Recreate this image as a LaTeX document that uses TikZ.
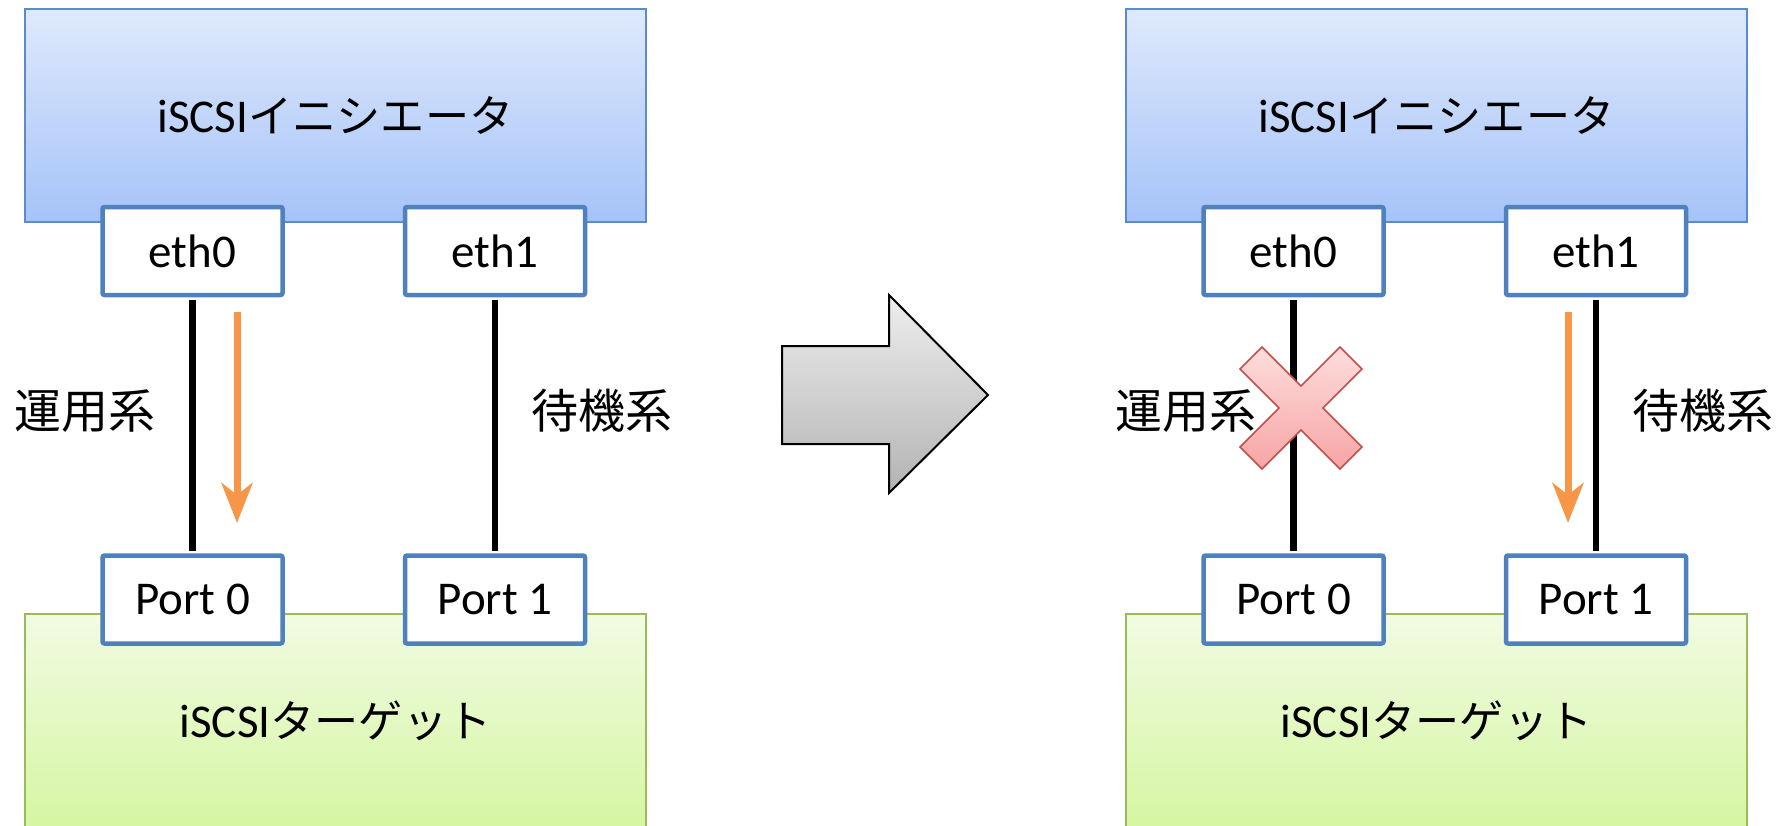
\documentclass[tikz,border=0pt]{standalone}
\usepackage{fontspec}
\setmainfont{Carlito}
\newfontfamily\jp{Noto Sans CJK JP}[Scale=0.94]
\newfontfamily\jplabel{Noto Sans CJK JP}[Scale=1.0]
\usetikzlibrary{arrows.meta}

\definecolor{nicblue}{HTML}{4F81BD}
\definecolor{initedge}{HTML}{5B8BCB}
\definecolor{inittop}{HTML}{DFE9FC}
\definecolor{initbot}{HTML}{A5C3F8}
\definecolor{tgtedge}{HTML}{9BBB59}
\definecolor{tgttop}{HTML}{F1FBE3}
\definecolor{tgtbot}{HTML}{D6F6A2}
\definecolor{flow}{HTML}{F79646}
\definecolor{failedge}{HTML}{C0504D}
\definecolor{failtop}{HTML}{FDDDDD}
\definecolor{failbot}{HTML}{F7A4A4}
\definecolor{nexttop}{HTML}{EEEEEE}
\definecolor{nextbot}{HTML}{B3B3B3}

\tikzset{
  big/.style={font=\fontsize{47}{52}\selectfont},
  host/.style={draw=initedge, line width=1.5pt, top color=inittop, bottom color=initbot,
    minimum width=621pt, minimum height=213pt, inner sep=0pt, big},
  target/.style={draw=tgtedge, line width=1.5pt, top color=tgttop, bottom color=tgtbot,
    minimum width=621pt, minimum height=213pt, inner sep=0pt, big},
  nic/.style={draw=nicblue, line width=4.5pt, fill=white, rounded corners=2pt,
    minimum width=180pt, minimum height=88pt, inner sep=0pt, big},
  wire/.style={line width=6.5pt, black, shorten <=2.25pt, shorten >=2.25pt},
  flowarrow/.style={draw=flow, line width=7pt,
    -{Stealth[length=40pt, width=31pt, inset=12pt, fill=flow]}},
  label/.style={inner sep=0pt, big},
  nextstep/.style={draw=black, line width=2pt, top color=nexttop, bottom color=nextbot},
  failmark/.style={draw=failedge, line width=1.5pt, top color=failtop, bottom color=failbot},
}

\begin{document}
\begin{tikzpicture}[x=1pt, y=-1pt]
\useasboundingbox (0,0) rectangle (1784,825);

% ---------- before: eth0 active ----------
\node[host] (iniA) at (335.5,115.5) {iSCSI{\jp イニシエータ}};
\node[target] (tgtA) at (335.5,720.5) {iSCSI{\jp ターゲット}};
\node[nic] (e0A) at (192.5,251) {eth0};
\node[nic] (e1A) at (495,251) {eth1};
\node[nic] (p0A) at (192.5,599.5) {Port 0};
\node[nic] (p1A) at (495,599.5) {Port 1};
\draw[wire] (e0A.south) -- (p0A.north);
\draw[wire] (e1A.south) -- (p1A.north);
\node[label] (actA) at (85,411) {\jplabel 運用系};
\node[label] (stbA) at (602,411) {\jplabel 待機系};
\coordinate (fA1) at (237,312);
\coordinate (fA2) at (237,523);
\draw[flowarrow] (fA1) -- (fA2);

% ---------- transition arrow ----------
\draw[nextstep] (782,346) -- (889,346) -- (889,295) -- (988,395)
  -- (889,493) -- (889,444) -- (782,444) -- cycle;

% ---------- after: failover to eth1 ----------
\begin{scope}[shift={(1101,0)}]
\node[host] (iniB) at (335.5,115.5) {iSCSI{\jp イニシエータ}};
\node[target] (tgtB) at (335.5,720.5) {iSCSI{\jp ターゲット}};
\node[nic] (e0B) at (192.5,251) {eth0};
\node[nic] (e1B) at (495,251) {eth1};
\node[nic] (p0B) at (192.5,599.5) {Port 0};
\node[nic] (p1B) at (495,599.5) {Port 1};
\draw[wire] (e0B.south) -- (p0B.north);
\draw[wire] (e1B.south) -- (p1B.north);
\node[label] (actB) at (85,411) {\jplabel 運用系};
\node[label] (stbB) at (602,411) {\jplabel 待機系};
\coordinate (fB1) at (467,312);
\coordinate (fB2) at (467,523);
\draw[flowarrow] (fB1) -- (fB2);
% cross over the failed path
\begin{scope}[shift={(200,408)}]
\draw[failmark] (0,-22) -- (39,-61) -- (61,-39) -- (22,0) -- (61,39) -- (39,61)
  -- (0,22) -- (-39,61) -- (-61,39) -- (-22,0) -- (-61,-39) -- (-39,-61) -- cycle;
\end{scope}
\end{scope}
\end{tikzpicture}
\end{document}
